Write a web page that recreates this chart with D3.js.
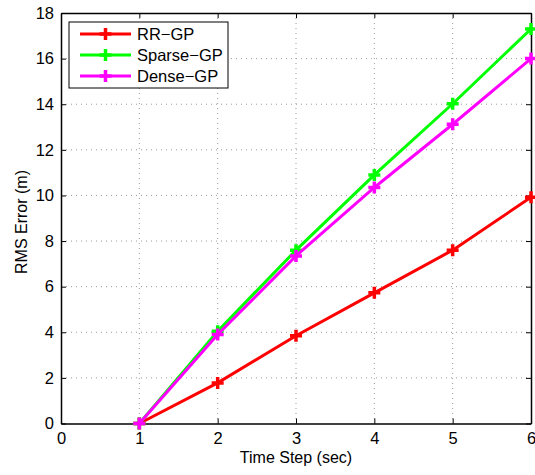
<!DOCTYPE html>
<html>
<head>
<meta charset="utf-8">
<script src="https://cdn.jsdelivr.net/npm/d3@7"></script>
<style>
  body { margin: 0; background: #fff; }
  text { font-family: "Liberation Sans", Arial, sans-serif; }
</style>
</head>
<body>
<svg id="chart"></svg>
<script>
const timeSteps = [1, 2, 3, 4, 5, 6];
const rrGP = [0, 1.78, 3.85, 5.73, 7.6, 9.92];
const sparseGP = [0, 4.05, 7.6, 10.9, 14.02, 17.3];
const denseGP = [0, 3.9, 7.35, 10.35, 13.12, 16.0];
const seriesNames = ["RR\u2212GP", "Sparse\u2212GP", "Dense\u2212GP"];
const seriesColors = ["#ff0000", "#00ff00", "#ff00ff"];
const xTicks = [0, 1, 2, 3, 4, 5, 6];
const yTicks = [0, 2, 4, 6, 8, 10, 12, 14, 16, 18];

const w = 535, h = 475;
const plotLeft = 61, plotRight = 531, plotTop = 13, plotBottom = 423.5;

const svg = d3.select("#chart").attr("width", w).attr("height", h);

const x = d3.scaleLinear().domain([0, 6]).range([plotLeft, plotRight]);
const y = d3.scaleLinear().domain([0, 18]).range([plotBottom, plotTop]);

// grid
svg.append("g").selectAll("line")
   .data(xTicks.slice(1, -1))
   .enter().append("line")
   .attr("x1", d => x(d)).attr("x2", d => x(d))
   .attr("y1", plotTop).attr("y2", plotBottom)
   .attr("stroke", "#999").attr("stroke-dasharray", "1,4");
svg.append("g").selectAll("line")
   .data(yTicks.slice(1, -1))
   .enter().append("line")
   .attr("y1", d => y(d)).attr("y2", d => y(d))
   .attr("x1", plotLeft).attr("x2", plotRight)
   .attr("stroke", "#999").attr("stroke-dasharray", "1,4");

// axes (ticks inward, mirrored)
const fmt = d3.format("d");
const xAxis = d3.axisBottom(x).tickValues(xTicks).tickFormat(fmt).tickSizeInner(-5).tickSizeOuter(0).tickPadding(9);
const yAxis = d3.axisLeft(y).tickValues(yTicks).tickFormat(fmt).tickSizeInner(-5).tickSizeOuter(0).tickPadding(7);

svg.append("g").attr("transform", `translate(0,${plotBottom})`).call(xAxis);
svg.append("g").attr("transform", `translate(${plotLeft},0)`).call(yAxis);
svg.append("g").attr("transform", `translate(0,${plotTop})`)
   .call(d3.axisTop(x).tickValues(xTicks).tickSizeInner(-5).tickSizeOuter(0).tickFormat(""));
svg.append("g").attr("transform", `translate(${plotRight},0)`)
   .call(d3.axisRight(y).tickValues(yTicks).tickSizeInner(-5).tickSizeOuter(0).tickFormat(""));

svg.selectAll(".domain").attr("stroke", "#000").attr("stroke-width", 1.5);
svg.selectAll(".tick line").attr("stroke", "#000");
svg.selectAll(".tick text").attr("font-size", 16.5).attr("fill", "#000")
   .style("font-family", "'Liberation Sans', Arial, sans-serif");

// axis labels
svg.append("text")
   .attr("x", (plotLeft + plotRight) / 2).attr("y", 463)
   .attr("text-anchor", "middle").attr("font-size", 16)
   .text("Time Step (sec)");
svg.append("text")
   .attr("transform", `translate(27,222) rotate(-90)`)
   .attr("text-anchor", "middle").attr("font-size", 16)
   .text("RMS Error (m)");

// series
const allSeries = [rrGP, sparseGP, denseGP];
const line = d3.line().x((d, i) => x(timeSteps[i])).y(d => y(d));

allSeries.forEach((vals, k) => {
  svg.append("path")
     .datum(vals)
     .attr("d", line)
     .attr("fill", "none")
     .attr("stroke", seriesColors[k])
     .attr("stroke-width", 3);
  svg.append("g").selectAll("path")
     .data(vals)
     .enter().append("path")
     .attr("d", "M-6,0H6M0,-6V6")
     .attr("transform", (d, i) => `translate(${x(timeSteps[i])},${y(d)})`)
     .attr("stroke", seriesColors[k])
     .attr("stroke-width", 3.5);
});

// legend
const lg = svg.append("g").attr("transform", "translate(69,22)");
lg.append("rect").attr("width", 159).attr("height", 66)
  .attr("fill", "#fff").attr("stroke", "#000").attr("stroke-width", 1);
seriesNames.forEach((name, k) => {
  const yy = 12 + k * 21;
  lg.append("line").attr("x1", 11).attr("x2", 62).attr("y1", yy).attr("y2", yy)
    .attr("stroke", seriesColors[k]).attr("stroke-width", 3);
  lg.append("path").attr("d", `M${36.5 - 6},${yy}H${36.5 + 6}M36.5,${yy - 6}V${yy + 6}`)
    .attr("stroke", seriesColors[k]).attr("stroke-width", 3.5);
  lg.append("text").attr("x", 68).attr("y", yy + 6)
    .attr("font-size", 16.5).text(name);
});
</script>
</body>
</html>
